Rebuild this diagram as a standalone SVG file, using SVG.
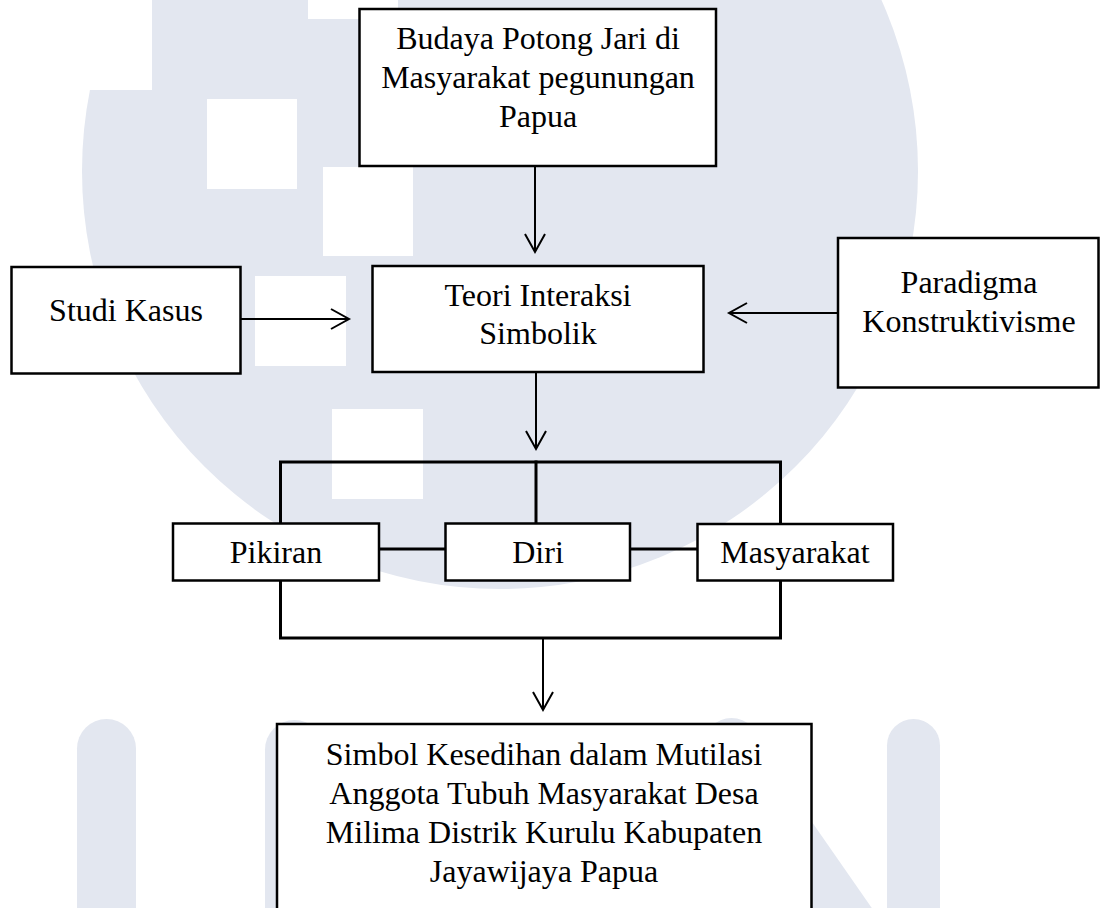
<svg xmlns="http://www.w3.org/2000/svg" width="1100" height="908" viewBox="0 0 1100 908">
<style>
.box{fill:#fff;stroke:#000;stroke-width:2.5}
.t{font-family:"Liberation Serif","Times New Roman",serif;font-size:32px;fill:#000;text-anchor:middle}
.c{stroke:#000;stroke-width:2;fill:none}
.b{stroke:#000;stroke-width:3;fill:none;stroke-linecap:square}
.wm{fill:#e3e7f0}
.wh{fill:#fff}
</style>
<defs>
<marker id="ah" markerUnits="userSpaceOnUse" viewBox="-22 -12 24 24" refX="0" refY="0" markerWidth="24" markerHeight="24" orient="auto" overflow="visible">
<path d="M-18,-10 L0,0 L-18,10" fill="none" stroke="#000" stroke-width="2"/>
</marker>
</defs>
<rect x="0" y="0" width="1100" height="908" fill="#fff"/>
<g id="watermark">
<circle class="wm" cx="500" cy="171" r="418"/>
<rect class="wh" x="0" y="0" width="152" height="90"/>
<rect class="wh" x="308" y="-71" width="90" height="90"/>
<rect class="wh" x="207" y="99" width="90" height="90"/>
<rect class="wh" x="323" y="167" width="90" height="89"/>
<rect class="wh" x="255" y="276" width="91" height="90"/>
<rect class="wh" x="332" y="409" width="91" height="90"/>
<path class="wm" d="M77,908 V748.5 A29.5,29.5 0 0 1 136,748.5 V908 Z"/>
<path class="wm" d="M265,908 V749.5 A29.5,29.5 0 0 1 324,749.5 V908 Z"/>
<path class="wm" d="M703,908 V746.5 A28.5,28.5 0 0 1 760,746.5 V908 Z"/>
<path class="wm" d="M887,908 V745.5 A26.5,26.5 0 0 1 940,745.5 V908 Z"/>
<polygon class="wm" points="660,730 748,730 901,950 813,950"/>
</g>
<g id="connectors">
<line class="c" x1="535" y1="166" x2="535" y2="252" marker-end="url(#ah)"/>
<line class="c" x1="240" y1="319" x2="349" y2="319" marker-end="url(#ah)"/>
<line class="c" x1="838" y1="313" x2="729" y2="313" marker-end="url(#ah)"/>
<line class="c" x1="536" y1="372" x2="536" y2="449" marker-end="url(#ah)"/>
<path class="b" d="M280.5,523 V462 H780.5 V524"/>
<line class="b" x1="536" y1="462" x2="536" y2="523"/>
<path class="b" d="M280.5,581 V638 H780.5 V581"/>
<line class="b" x1="379" y1="549" x2="445" y2="549"/>
<line class="b" x1="630" y1="549" x2="697" y2="549"/>
<line class="c" x1="543" y1="638" x2="543" y2="710" marker-end="url(#ah)"/>
</g>
<g id="node-budaya">
<rect class="box" x="359.5" y="9" width="356.5" height="157"/>
<text class="t" x="538" y="49">Budaya Potong Jari di</text>
<text class="t" x="538" y="88">Masyarakat pegunungan</text>
<text class="t" x="538" y="127">Papua</text>
</g>
<g id="node-studi">
<rect class="box" x="11.5" y="267" width="229" height="106.5"/>
<text class="t" x="126" y="321">Studi Kasus</text>
</g>
<g id="node-teori">
<rect class="box" x="372.5" y="266" width="331" height="106"/>
<text class="t" x="538" y="306">Teori Interaksi</text>
<text class="t" x="538" y="344">Simbolik</text>
</g>
<g id="node-paradigma">
<rect class="box" x="838" y="238" width="260.5" height="149.5"/>
<text class="t" x="969" y="293">Paradigma</text>
<text class="t" x="969" y="332">Konstruktivisme</text>
</g>
<g id="node-pikiran">
<rect class="box" x="173" y="523.5" width="206" height="57"/>
<text class="t" x="276" y="563">Pikiran</text>
</g>
<g id="node-diri">
<rect class="box" x="445.5" y="523.5" width="184.5" height="57"/>
<text class="t" x="538" y="563">Diri</text>
</g>
<g id="node-masyarakat">
<rect class="box" x="697.5" y="524" width="195.5" height="56.5"/>
<text class="t" x="795" y="563">Masyarakat</text>
</g>
<g id="node-simbol">
<rect class="box" x="277" y="724" width="534.5" height="220"/>
<text class="t" x="544" y="765">Simbol Kesedihan dalam Mutilasi</text>
<text class="t" x="544" y="804">Anggota Tubuh Masyarakat Desa</text>
<text class="t" x="544" y="843">Milima Distrik Kurulu Kabupaten</text>
<text class="t" x="544" y="882">Jayawijaya Papua</text>
</g>
</svg>
